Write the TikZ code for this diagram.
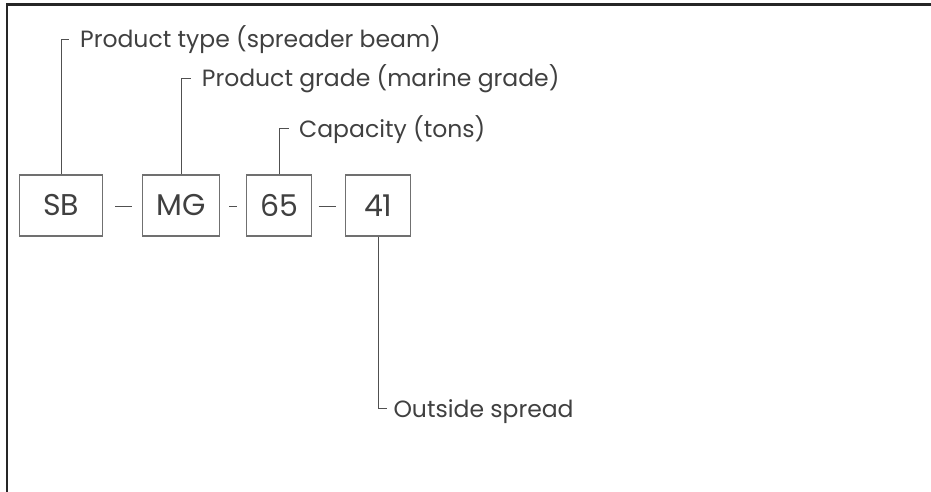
\documentclass[tikz,border=0pt]{standalone}
\usepackage{fontspec}
\setmainfont{Poppins}
\usetikzlibrary{calc}
\definecolor{txt}{HTML}{404040}
\definecolor{boxline}{HTML}{707070}
\definecolor{lead}{HTML}{505050}
\tikzset{
  codebox/.style={draw=boxline, line width=1.3pt, minimum height=61pt, inner sep=0pt, text=txt, font=\fontsize{30}{34}\selectfont},
  lbl/.style={anchor=base west, inner sep=0pt, text=txt, font=\fontsize{23.5}{27}\selectfont},
  leader/.style={draw=lead, line width=1pt},
  sep/.style={draw=lead, line width=0.9pt},
  frame/.style={draw=black!85, line width=2.2pt}
}
\begin{document}
\begin{tikzpicture}[x=1pt,y=-1pt]
\useasboundingbox (0,0) rectangle (931,492);
\draw[frame] (931,4.5) -- (7,4.5) -- (7,492);

\node[codebox, minimum width=83pt] (sb) at (61.3,205.5) {SB};
\node[codebox, minimum width=77pt] (mg) at (181.3,205.5) {MG};
\node[codebox, minimum width=65pt] (c65) at (279,205.5) {65};
\node[codebox, minimum width=65pt] (c41) at (378.3,205.5) {41};

\draw[sep] ($(sb.east)+(12,1.2)$) -- ($(mg.west)+(-10,1.2)$);
\draw[sep] ($(mg.east)+(9,1.2)$) -- ($(c65.west)+(-8.7,1.2)$);
\draw[sep] ($(c65.east)+(6.4,1.2)$) -- ($(c41.west)+(-8.7,1.2)$);

\node[lbl] (l1) at (80,48) {Product type (spreader beam)};
\node[lbl] (l2) at (201.7,87) {Product grade (marine grade)};
\node[lbl] (l3) at (299,137) {Capacity (tons)};
\node[lbl] (l4) at (393.3,417) {Outside spread};

\coordinate (t1) at ($(l1.base west)+(-11,-8.5)$);
\coordinate (t2) at ($(l2.base west)+(-11,-8.5)$);
\coordinate (t3) at ($(l3.base west)+(-10,-8.5)$);
\coordinate (t4) at ($(l4.base west)+(-6.5,-9)$);

\draw[leader] (sb.north) |- (t1);
\draw[leader] (mg.north) |- (t2);
\draw[leader] (c65.north) |- (t3);
\draw[leader] (c41.south) |- (t4);
\end{tikzpicture}
\end{document}
